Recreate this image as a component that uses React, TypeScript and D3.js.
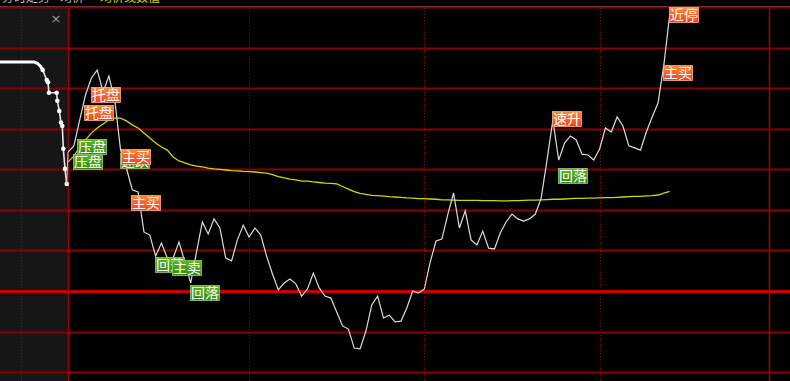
import React from "react";
import * as d3 from "d3";

// ---- data ----
// intraday price, % change vs previous close, one value per minute
const pricePct = [
  4.89, 5.11, 6.02, 6.9, 7.5, 7.78, 7.01, 7.57, 6.73, 4.96,
  4.33, 3.56, 3.49, 2.08, 1.97, 1.23, 1.69, 1.16, 1.16, 1.73,
  1.02, 0.28, 1.37, 2.43, 2.01, 2.54, 2.22, 1.16, 1.06, 1.8,
  2.32, 1.9, 2.22, 1.97, 1.23, 0.6, 0.04, 0.28, 0.42, 0.25,
  -0.18, 0.07, 0.63, 0.11, -0.18, -0.25, -0.74, -1.23, -1.34, -2.01,
  -2.04, -1.41, -0.49, -0.18, -0.95, -0.85, -1.09, -1.06, -0.6, 0.0,
  -0.07, 0.07, 1.02, 1.76, 1.83, 2.68, 3.45, 2.22, 2.82, 1.8,
  1.62, 2.11, 1.51, 1.48, 2.04, 2.43, 2.71, 2.54, 2.46, 2.54,
  2.71, 3.27, 4.61, 6.02, 4.61, 5.21, 5.46, 5.32, 4.82, 4.79,
  4.61, 5.0, 5.74, 5.6, 6.13, 5.81, 5.11, 5.04, 4.96, 5.6,
  6.13, 6.62, 7.96, 9.72,
];
// average price line, % change
const avgPct = [
  4.54, 4.75, 5.07, 5.32, 5.56, 5.74, 5.88, 6.02, 6.09, 6.09,
  5.99, 5.85, 5.74, 5.56, 5.39, 5.21, 5.07, 4.96, 4.72, 4.58,
  4.51, 4.44, 4.4, 4.37, 4.33, 4.3, 4.28, 4.26, 4.24, 4.23,
  4.21, 4.2, 4.19, 4.17, 4.15, 4.1, 4.03, 3.98, 3.94, 3.91,
  3.87, 3.87, 3.84, 3.82, 3.8, 3.79, 3.77, 3.68, 3.59, 3.5,
  3.44, 3.4, 3.37, 3.36, 3.34, 3.32, 3.31, 3.3, 3.28, 3.27,
  3.25, 3.25, 3.24, 3.23, 3.21, 3.21, 3.2, 3.19, 3.19, 3.19,
  3.19, 3.18, 3.18, 3.18, 3.17, 3.17, 3.18, 3.18, 3.19, 3.2,
  3.2, 3.21, 3.22, 3.23, 3.23, 3.24, 3.25, 3.26, 3.26, 3.27,
  3.27, 3.28, 3.29, 3.29, 3.3, 3.31, 3.32, 3.33, 3.33, 3.35,
  3.36, 3.38, 3.45, 3.51,
];
// call auction (minutes into auction window, % change)
const auctionMin = [0, 5.0, 5.5, 6.0, 6.28, 6.87, 7.06, 7.2, 8.33, 8.43, 8.72, 8.97, 9.16, 9.31, 9.56, 9.81];
const auctionPct = [8.06, 8.06, 8.02, 7.9, 7.78, 7.43, 7.35, 6.98, 6.98, 6.7, 6.34, 5.93, 5.81, 5.01, 4.3, 3.77];

// event tags
const tagText = ["托盘", "托盘", "压盘", "压盘", "速跌", "主买", "主买", "回落", "主卖", "回落", "速升", "回落", "主买", "近停"];
const tagKind = ["buy", "buy", "sell", "sell", "sell", "buy", "buy", "sell", "sell", "sell", "buy", "sell", "buy", "buy"];
const tagMinute = [3.94, 2.74, 1.59, 0.91, 8.9, 9.02, 10.78, 14.89, 17.75, 20.88, 82.8, 83.93, 101.9, 102.93];
const tagPct = [6.92, 6.27, 5.09, 4.55, 4.6, 4.73, 3.1, 0.95, 0.81, -0.07, 6.06, 4.08, 7.68, 9.75];

// grid
const gridStep = 10 / 7;
const gridLevels = d3.range(-3, 8).map((k) => k * gridStep);
const timeGridMinutes = [31, 61, 91];
const auctionGridMinutes = [3.13];

const W = 790;
const H = 381;
const PANEL_X = 68;
const RIGHT_X = 769;

export default function App() {
  const x = d3.scaleLinear().domain([0, 120]).range([PANEL_X, RIGHT_X]);
  const xa = d3.scaleLinear().domain([0, 10]).range([0, PANEL_X]);
  const y = d3.scaleLinear().domain([0, 10]).range([291, 7]);

  const priceLine = d3
    .line<number>()
    .x((_, i) => x(i))
    .y((d) => y(d));
  const auctionLine = d3
    .line<number>()
    .x((_, i) => xa(auctionMin[i]))
    .y((d) => y(d));

  const auctionThick = auctionPct.slice(0, 5);
  const auctionThin = auctionPct.slice(4);
  const thinLine = d3
    .line<number>()
    .x((_, i) => xa(auctionMin[i + 4]))
    .y((d) => y(d));

  const boxW = 29;
  const boxH = 15;

  return (
    <svg
      width={W}
      height={H}
      style={{ position: "absolute", left: 0, top: 0, background: "#000" }}
    >
      <defs>
        <linearGradient id="gBuy" x1="0" y1="0" x2="0" y2="1">
          <stop offset="0" stopColor="#ff8a3a" />
          <stop offset="1" stopColor="#f2401c" />
        </linearGradient>
        <linearGradient id="gSell" x1="0" y1="0" x2="0" y2="1">
          <stop offset="0" stopColor="#62b522" />
          <stop offset="1" stopColor="#2f8c0e" />
        </linearGradient>
        <clipPath id="mainClip">
          <rect x={PANEL_X} y={8} width={W - PANEL_X} height={H - 8} />
        </clipPath>
      </defs>
      <rect x={0} y={0} width={W} height={H} fill="#000" />
      {/* auction panel background */}
      <rect x={0} y={8} width={PANEL_X} height={H - 8} fill="#161616" />

      {/* header (clipped off at top) */}
      <text x={2} y={2} fill="#b8b8b8" fontSize={12} fontFamily="'Noto Sans CJK SC'">分时走势</text>
      <text x={60} y={2} fill="#b8b8b8" fontSize={12} fontFamily="'Noto Sans CJK SC'">均价</text>
      <text x={100} y={2} fill="#d0d000" fontSize={12} fontFamily="'Noto Sans CJK SC'">均价线数值</text>
      <line x1={0} x2={W} y1={7} y2={7} stroke="#5a5a5a" strokeWidth={2} />

      {/* horizontal grid */}
      {gridLevels.map((v, i) => {
        const isZero = Math.abs(v) < 1e-9;
        return (
          <line
            key={"h" + i}
            x1={0}
            x2={W}
            y1={Math.round(y(v)) + 0.5}
            y2={Math.round(y(v)) + 0.5}
            stroke={isZero ? "#c80000" : "#8a0000"}
            strokeWidth={isZero ? 3 : 2}
          />
        );
      })}
      {/* vertical dotted grid */}
      {timeGridMinutes.map((m, i) => (
        <line
          key={"v" + i}
          x1={Math.round(x(m)) + 0.5}
          x2={Math.round(x(m)) + 0.5}
          y1={8}
          y2={H}
          stroke="#9a0000"
          strokeWidth={1}
          strokeDasharray="1,2"
        />
      ))}
      {auctionGridMinutes.map((m, i) => (
        <line
          key={"va" + i}
          x1={Math.round(xa(m)) + 0.5}
          x2={Math.round(xa(m)) + 0.5}
          y1={8}
          y2={H}
          stroke="#9a0000"
          strokeWidth={1}
          strokeDasharray="1,2"
        />
      ))}
      <line x1={PANEL_X + 0.5} x2={PANEL_X + 0.5} y1={8} y2={H} stroke="#a00000" strokeWidth={1.5} />
      <line x1={RIGHT_X + 0.5} x2={RIGHT_X + 0.5} y1={8} y2={H} stroke="#a00000" strokeWidth={1.5} />

      {/* close mark */}
      <text x={56} y={23} fill="#9a9a9a" fontSize={13} textAnchor="middle" fontFamily="DejaVu Sans">×</text>

      {/* auction line */}
      <path d={auctionLine(auctionThick) || ""} fill="none" stroke="#fff" strokeWidth={3} />
      <path d={thinLine(auctionThin) || ""} fill="none" stroke="#e8e8e8" strokeWidth={1.6} />
      {auctionPct.slice(4).map((v, i) => (
        <circle key={"ad" + i} cx={xa(auctionMin[i + 4])} cy={y(v)} r={2.3} fill="#fff" />
      ))}
      {/* connector from auction end to open */}
      <line
        x1={xa(auctionMin[auctionMin.length - 1])}
        y1={y(auctionPct[auctionPct.length - 1])}
        x2={x(0)}
        y2={y(pricePct[0])}
        stroke="#cfcfcf"
        strokeWidth={1}
      />

      <g clipPath="url(#mainClip)">
        <path d={priceLine(avgPct) || ""} fill="none" stroke="#d4d400" strokeWidth={1.3} />
        <path d={priceLine(pricePct) || ""} fill="none" stroke="#dcdcdc" strokeWidth={1.2} />
      </g>

      {/* tags */}
      {tagText.map((t, i) => {
        const bx = Math.round(x(tagMinute[i]));
        const by = Math.round(y(tagPct[i]) - boxH / 2);
        const buy = tagKind[i] === "buy";
        return (
          <g key={"t" + i}>
            <rect
              x={bx + 0.5}
              y={by + 0.5}
              width={boxW}
              height={boxH}
              fill={buy ? "url(#gBuy)" : "url(#gSell)"}
              stroke={buy ? "#ffb080" : "#8fd060"}
              strokeWidth={0.8}
            />
            <text
              x={bx + boxW / 2 + 0.5}
              y={by + boxH / 2 + 5.5}
              fill="#fff"
              fontSize={14}
              textAnchor="middle"
              fontFamily="'Noto Sans CJK SC'"
            >
              {t}
            </text>
          </g>
        );
      })}
    </svg>
  );
}
